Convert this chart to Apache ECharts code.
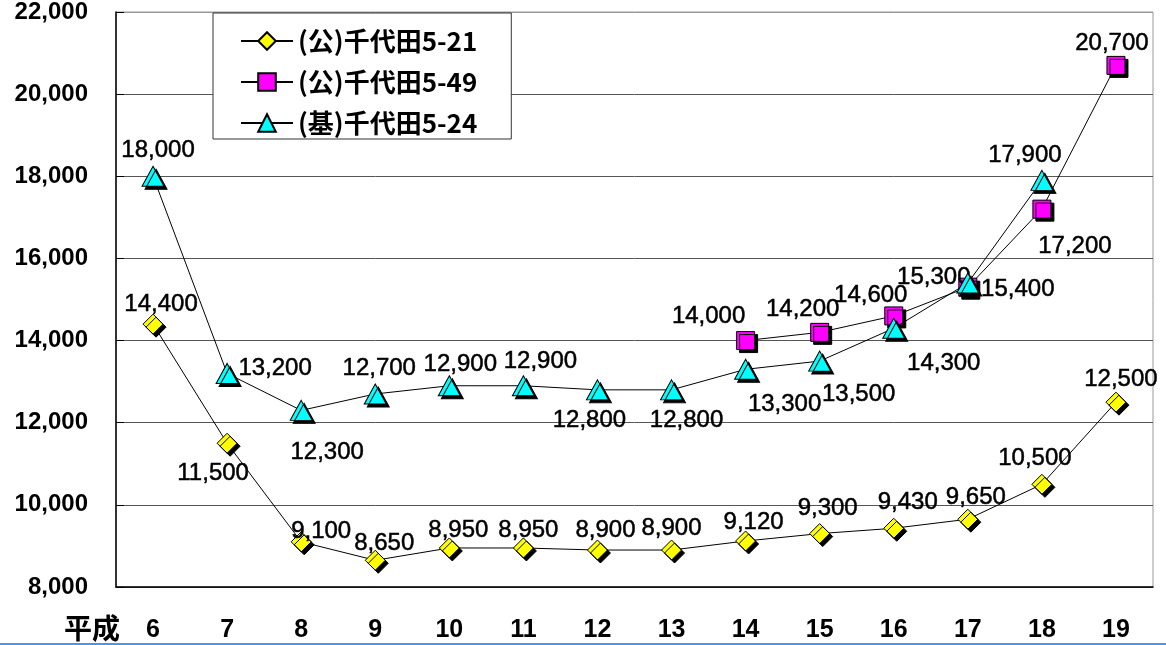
<!DOCTYPE html>
<html>
<head>
<meta charset="utf-8">
<script src="https://cdn.jsdelivr.net/npm/echarts@6/dist/echarts.min.js"></script>
<style>
  html, body { margin: 0; padding: 0; background: #fff; }
  #chart { width: 1166px; height: 645px; }
</style>
</head>
<body>
<div id="chart"></div>
<script>
// 平成6〜19年 地価の推移（千代田地点）
const years = ['6', '7', '8', '9', '10', '11', '12', '13', '14', '15', '16', '17', '18', '19'];
const seriesNames = ['(公)千代田5-21', '(公)千代田5-49', '(基)千代田5-24'];
const yTicks = [8000, 10000, 12000, 14000, 16000, 18000, 20000, 22000];

const chiyoda5_21 = [14400, 11500, 9100, 8650, 8950, 8950, 8900, 8900, 9120, 9300, 9430, 9650, 10500, 12500];
const chiyoda5_49 = [null, null, null, null, null, null, null, null, 14000, 14200, 14600, 15300, 17200, 20700];
const chiyoda5_24 = [18000, 13200, 12300, 12700, 12900, 12900, 12800, 12800, 13300, 13500, 14300, 15400, 17900, null];

// label offsets from each marker centre (px)
const labelShift5_21 = [[8, -20], [-14, 30], [20, -10], [9, -17], [9, -18], [5, -18], [8, -20], [0, -22], [8, -19], [8, -25], [14, -26], [8, -22], [-7, -26], [5, -23]];
const labelShift5_49 = [null, null, null, null, null, null, null, null, [-37, -24], [-17, -23], [-23, -21], [-34, -10], [33, 37], [-4, -22]];
const labelShift5_24 = [[5, -26], [48, -5], [26, 42], [4, -26], [11, -21], [17, -24], [-8, 31], [15, 31], [39, 35], [39, 33], [50, 35], [50, 6], [-17, -25], null];

const fmt = v => String(v).replace(/\B(?=(\d{3})+(?!\d))/g, ',');

function points(values, shifts) {
  return values.map((v, i) => {
    if (v == null) return null;
    return { value: v, label: { offset: shifts[i] } };
  });
}

const markerStyle = color => ({
  color: color,
  borderColor: '#000',
  borderWidth: 1,
  shadowColor: '#000',
  shadowBlur: 0,
  shadowOffsetX: 3,
  shadowOffsetY: 3
});

const labelStyle = {
  show: true,
  position: 'inside',
  color: '#000',
  fontFamily: 'Liberation Sans, Arial, sans-serif',
  fontSize: 24,
  textBorderColor: '#000',
  textBorderWidth: 0.5,
  formatter: p => fmt(p.value)
};

const chart = echarts.init(document.getElementById('chart'), null, { renderer: 'canvas' });

const option = {
  animation: false,
  backgroundColor: '#fff',
  grid: {
    left: 116, right: 13, top: 8, bottom: 58,
    show: true, borderColor: '#999', borderWidth: 1
  },
  legend: {
    orient: 'vertical',
    left: 213, top: 13,
    padding: [15, 34, 3, 27],
    itemGap: 15,
    itemWidth: 52,
    itemHeight: 22,
    backgroundColor: '#fff',
    borderColor: '#333',
    borderWidth: 1,
    borderRadius: 0,
    itemStyle: { shadowColor: 'rgba(0,0,0,0)', shadowOffsetX: 0, shadowOffsetY: 0 },
    textStyle: {
      fontFamily: 'Noto Sans CJK JP, sans-serif',
      fontWeight: 'bold',
      fontSize: 26,
      lineHeight: 22,
      color: '#000'
    },
    data: seriesNames
  },
  xAxis: {
    type: 'category',
    data: years,
    boundaryGap: true,
    axisLine: { lineStyle: { color: '#000', width: 1.5 } },
    axisTick: { inside: true, length: 7, lineStyle: { color: '#000', width: 1 } },
    axisLabel: {
      margin: 31,
      color: '#000',
      fontFamily: 'Liberation Sans, Arial, sans-serif',
      fontWeight: 'bold',
      fontSize: 25
    },
    splitLine: { show: false }
  },
  yAxis: {
    type: 'value',
    min: 8000, max: 22000, interval: 2000,
    axisLine: { show: true, lineStyle: { color: '#000', width: 1.5 } },
    axisTick: { show: true, inside: true, length: 8, lineStyle: { color: '#000' } },
    axisLabel: {
      margin: 28,
      color: '#000',
      fontFamily: 'Liberation Sans, Arial, sans-serif',
      fontWeight: 'bold',
      fontSize: 24,
      padding: [12, 0, 0, 0],
      formatter: v => fmt(v)
    },
    splitLine: {
      show: true,
      lineStyle: { color: ['#555', '#555', '#555', '#555', '#555', '#555', '#555', '#999'], width: 1 }
    }
  },
  series: [
    {
      name: seriesNames[0],
      type: 'line',
      data: points(chiyoda5_21, labelShift5_21),
      symbol: 'diamond',
      symbolSize: [20, 20],
      lineStyle: { color: '#000', width: 1 },
      itemStyle: markerStyle('#ffff00'),
      label: labelStyle,
      z: 2
    },
    {
      name: seriesNames[1],
      type: 'line',
      data: points(chiyoda5_49, labelShift5_49),
      symbol: 'rect',
      symbolSize: [18, 18],
      connectNulls: false,
      lineStyle: { color: '#000', width: 1 },
      itemStyle: markerStyle('#ff00ff'),
      label: labelStyle,
      z: 3
    },
    {
      name: seriesNames[2],
      type: 'line',
      data: points(chiyoda5_24, labelShift5_24),
      symbol: 'triangle',
      symbolSize: [22, 20],
      lineStyle: { color: '#000', width: 1 },
      itemStyle: markerStyle('#00ffff'),
      label: labelStyle,
      z: 4
    }
  ],
  graphic: [
    {
      type: 'text',
      left: 64, top: 614,
      style: {
        text: '平成',
        fill: '#000',
        font: 'bold 28px "Noto Sans CJK JP", sans-serif'
      }
    },
    {
      type: 'rect',
      left: 0, top: 643,
      shape: { width: 1166, height: 2 },
      style: { fill: '#3d9bf5' }
    }
  ]
};

chart.setOption(option);
</script>
</body>
</html>
